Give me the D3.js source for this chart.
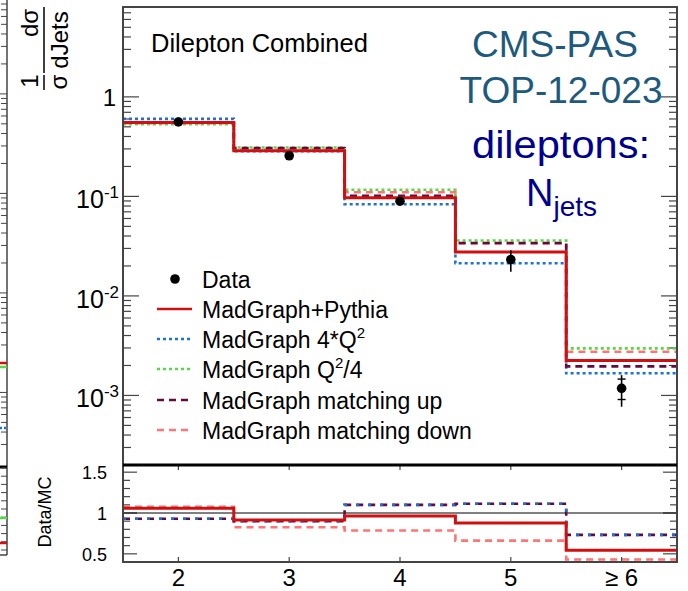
<!DOCTYPE html>
<html>
<head>
<meta charset="utf-8">
<script src="https://cdn.jsdelivr.net/npm/d3@7"></script>
<style>
  html, body { margin: 0; padding: 0; background: #fff; }
  svg { display: block; font-family: "Liberation Sans", Arial, sans-serif; }
</style>
</head>
<body>
<svg id="chart" width="688" height="591"></svg>
<script>
// Jet multiplicity bins
const categories = ["2", "3", "4", "5", "\u2265 6"];
const binCenters = [2, 3, 4, 5, 6];

// Normalised differential cross section (1/sigma dsigma/dJets)
const dataValues = [0.56, 0.256, 0.0895, 0.0232, 0.00118];
const dataErrLow = [0.545, 0.250, 0.0860, 0.01745, 0.00077];
const dataErrHigh = [0.575, 0.262, 0.0930, 0.0288, 0.00160];
const dataStatLow = [null, null, null, null, 0.00091];
const dataStatHigh = [null, null, null, null, 0.00146];

const madgraphPythia = [0.552, 0.287, 0.097, 0.0277, 0.00225];
const scaleUp = [0.601, 0.285, 0.0835, 0.0213, 0.00167];      // 4*Q^2
const scaleDown = [0.532, 0.310, 0.1167, 0.0360, 0.00297];    // Q^2/4
const matchingUp = [0.550, 0.306, 0.1016, 0.0340, 0.00196];
const matchingDown = [0.545, 0.294, 0.1100, 0.0336, 0.00275];

// Data/MC ratios
const ratioNominal = [1.057, 0.915, 0.963, 0.878, 0.545];
const ratioMatchingDown = [1.077, 0.826, 0.785, 0.662, 0.43];
const ratioScaleUp = [0.93, 0.90, 1.10, 1.113, 0.732];
const ratioMatchingUp = [0.93, 0.90, 1.10, 1.113, 0.732];

const mainTicks = [1, 0.1, 0.01, 0.001];
const mainTickLabels = [["1", ""], ["10", "-1"], ["10", "-2"], ["10", "-3"]];
const ratioTicks = [0.5, 1, 1.5];
const ratioTickLabels = ["0.5", "1", "1.5"];

const legendLabels = ["Data", "MadGraph+Pythia", "MadGraph 4*Q", "MadGraph Q", "MadGraph matching up", "MadGraph matching down"];

const svg = d3.select("#chart");

const X0 = 123, X1 = 677;
const x = d3.scaleLinear().domain([1.5, 6.5]).range([X0, X1]);
const y = d3.scaleLog().domain([2e-4, 8]).range([465, 7]);
const yr = d3.scaleLinear().domain([0.4, 1.6]).range([562, 464]);

const styles = {
  nominal: { color: "#d01010", width: 3, dash: null },
  scaleUp: { color: "#1a72d8", width: 2.6, dash: "3,3" },
  scaleDown: { color: "#58d848", width: 2.6, dash: "3,3" },
  matchUp: { color: "#660a3c", width: 2.6, dash: "7,5" },
  matchDown: { color: "#ff7474", width: 2.6, dash: "7,5" }
};

// step path through bins
function stepPath(vals, ys) {
  const p = d3.path();
  vals.forEach((v, i) => {
    const xa = x(binCenters[i] - 0.5), xb = x(binCenters[i] + 0.5);
    if (i === 0) p.moveTo(xa, ys(v)); else p.lineTo(xa, ys(v));
    p.lineTo(xb, ys(v));
  });
  return p.toString();
}
function drawStep(g, vals, ys, st) {
  g.append("path").attr("d", stepPath(vals, ys))
    .attr("fill", "none").attr("stroke", st.color)
    .attr("stroke-width", st.width)
    .attr("stroke-dasharray", st.dash);
}

// ---------- neighbouring panel edge on the far left ----------
const edge = svg.append("g");
edge.append("line").attr("x1", 7).attr("x2", 7).attr("y1", 0).attr("y2", 555)
  .attr("stroke", "#444").attr("stroke-width", 1.5);
edge.append("line").attr("x1", 0).attr("x2", 7).attr("y1", 555).attr("y2", 555)
  .attr("stroke", "#444").attr("stroke-width", 1.5);
edge.append("line").attr("x1", 0).attr("x2", 7).attr("y1", 467).attr("y2", 467)
  .attr("stroke", "#000").attr("stroke-width", 3);
[-4, -3, -2, -1, 0].forEach(e => {
  for (let m = 1; m <= 9; m++) {
    const v = m * Math.pow(10, e);
    if (v < 2.5e-4 || v > 8) continue;
    edge.append("line").attr("x1", m === 1 ? -8 : 1).attr("x2", 7)
      .attr("y1", y(v) - 3).attr("y2", y(v) - 3)
      .attr("stroke", "#444").attr("stroke-width", 1);
  }
});
d3.range(0.5, 1.55, 0.1).forEach(v => {
  const yy = 468 + (1.5 - v) * 82;
  edge.append("line").attr("x1", 1).attr("x2", 7).attr("y1", yy).attr("y2", yy)
    .attr("stroke", "#444").attr("stroke-width", 1);
});
[[363, "#d01010", null], [367, "#58d848", null], [428, "#1a72d8", "2,2"], [518, "#58d848", null], [543, "#d01010", null]]
  .forEach(([yy, c, d]) => edge.append("line").attr("x1", 0).attr("x2", 7)
    .attr("y1", yy).attr("y2", yy).attr("stroke", c).attr("stroke-width", 2.5)
    .attr("stroke-dasharray", d));

// ---------- upper panel ----------
const main = svg.append("g");

// minor/major y ticks on both sides
const decades = [-4, -3, -2, -1, 0];
decades.forEach(e => {
  for (let m = 1; m <= 9; m++) {
    const v = m * Math.pow(10, e);
    if (v < 2e-4 || v > 8) continue;
    const len = m === 1 ? 16 : 8;
    main.append("line").attr("x1", X0).attr("x2", X0 + len)
      .attr("y1", y(v)).attr("y2", y(v)).attr("stroke", "#444").attr("stroke-width", 1.2);
    main.append("line").attr("x1", X1 - len).attr("x2", X1)
      .attr("y1", y(v)).attr("y2", y(v)).attr("stroke", "#444").attr("stroke-width", 1.2);
  }
});

// tick labels
mainTicks.forEach((v, i) => {
  const [base, exp] = mainTickLabels[i];
  if (!exp) {
    main.append("text").attr("x", 116).attr("y", y(v) + 9)
      .attr("text-anchor", "end").attr("font-size", 24).text(base);
  } else {
    const t = main.append("text").attr("x", 119).attr("y", y(v) + 12)
      .attr("text-anchor", "end").attr("font-size", 25);
    t.append("tspan").text(base);
    t.append("tspan").attr("font-size", 17).attr("dy", -10).text(exp);
  }
});

// y-axis title: 1/sigma dsigma/dJets
const yt = svg.append("g").attr("transform", "rotate(-90)").attr("font-size", 24);
yt.append("text").attr("x", -23).attr("y", 38).attr("text-anchor", "middle").text("d\u03c3");
yt.append("text").attr("x", -40).attr("y", 68).attr("text-anchor", "middle").text("dJets");
yt.append("line").attr("x1", -7).attr("x2", -73).attr("y1", 44).attr("y2", 44)
  .attr("stroke", "#000").attr("stroke-width", 1.5);
yt.append("text").attr("x", -81).attr("y", 38).attr("text-anchor", "middle").text("1");
yt.append("text").attr("x", -82).attr("y", 67).attr("text-anchor", "middle").text("\u03c3");
yt.append("line").attr("x1", -75).attr("x2", -90).attr("y1", 44).attr("y2", 44)
  .attr("stroke", "#000").attr("stroke-width", 1.5);

// MC predictions
drawStep(main, scaleUp, y, styles.scaleUp);
drawStep(main, scaleDown, y, styles.scaleDown);
drawStep(main, matchingDown, y, styles.matchDown);
drawStep(main, matchingUp, y, styles.matchUp);
drawStep(main, madgraphPythia, y, styles.nominal);

// data with error bars
binCenters.forEach((c, i) => {
  main.append("line").attr("x1", x(c)).attr("x2", x(c))
    .attr("y1", y(dataErrLow[i])).attr("y2", y(dataErrHigh[i]))
    .attr("stroke", "#000").attr("stroke-width", 1.6);
  if (dataStatLow[i] !== null) {
    [dataStatLow[i], dataStatHigh[i]].forEach(v =>
      main.append("line").attr("x1", x(c) - 4).attr("x2", x(c) + 4)
        .attr("y1", y(v)).attr("y2", y(v)).attr("stroke", "#000").attr("stroke-width", 1.4));
  }
  main.append("circle").attr("cx", x(c)).attr("cy", y(dataValues[i])).attr("r", 4.8).attr("fill", "#000");
});

// frame
main.append("path").attr("d", `M${X0},465 V7 H${X1} V465`)
  .attr("fill", "none").attr("stroke", "#444").attr("stroke-width", 2);

// header texts
svg.append("text").attr("x", 151).attr("y", 52).attr("font-size", 25.5).text("Dilepton Combined");
svg.append("text").attr("x", 555).attr("y", 57).attr("text-anchor", "middle")
  .attr("font-size", 37).attr("fill", "#1d5a7e").text("CMS-PAS");
svg.append("text").attr("x", 561).attr("y", 103).attr("text-anchor", "middle")
  .attr("font-size", 37).attr("fill", "#1d5a7e").text("TOP-12-023");
svg.append("text").attr("x", 561).attr("y", 158).attr("text-anchor", "middle")
  .attr("font-size", 39).attr("fill", "#00008f")
  .attr("textLength", 178).attr("lengthAdjust", "spacingAndGlyphs").text("dileptons:");
const nj = svg.append("text").attr("x", 526).attr("y", 206).attr("font-size", 38).attr("fill", "#00008f");
nj.append("tspan").text("N");
nj.append("tspan").attr("font-size", 28).attr("dy", 10).text("jets");

// legend
const lg = svg.append("g").attr("font-size", 23);
const lgY = [279, 309, 339, 369, 400, 430];
lg.append("circle").attr("cx", 175).attr("cy", lgY[0]).attr("r", 4.8).attr("fill", "#000");
const lgStyles = [styles.nominal, styles.scaleUp, styles.scaleDown, styles.matchUp, styles.matchDown];
lgStyles.forEach((st, i) => {
  lg.append("line").attr("x1", 157).attr("x2", 192).attr("y1", lgY[i + 1]).attr("y2", lgY[i + 1])
    .attr("stroke", st.color).attr("stroke-width", st.width === 3 ? 2.5 : 2.4)
    .attr("stroke-dasharray", st.dash);
});
legendLabels.forEach((l, i) => {
  const t = lg.append("text").attr("x", 202).attr("y", lgY[i] + 8.5);
  t.append("tspan").text(l);
  if (i === 2) { t.append("tspan").attr("font-size", 15).attr("dy", -10).text("2"); }
  if (i === 3) {
    t.append("tspan").attr("font-size", 15).attr("dy", -10).text("2");
    t.append("tspan").attr("dy", 10).text("/4");
  }
});

// ---------- ratio panel ----------
const rp = svg.append("g");
d3.range(4, 16).forEach(k => {
  const v = k / 10;
  const major = (k % 5 === 0);
  const len = major ? 14 : 7;
  rp.append("line").attr("x1", X0).attr("x2", X0 + len).attr("y1", yr(v)).attr("y2", yr(v))
    .attr("stroke", "#444").attr("stroke-width", 1.2);
  rp.append("line").attr("x1", X1 - len).attr("x2", X1).attr("y1", yr(v)).attr("y2", yr(v))
    .attr("stroke", "#444").attr("stroke-width", 1.2);
});
ratioTicks.forEach((v, i) => {
  rp.append("text").attr("x", 107).attr("y", yr(v) + 7).attr("text-anchor", "end")
    .attr("font-size", 18).text(ratioTickLabels[i]);
});
rp.append("text").attr("transform", "translate(51,512) rotate(-90)")
  .attr("text-anchor", "middle").attr("font-size", 18).text("Data/MC");

// unity line
rp.append("line").attr("x1", X0).attr("x2", X1).attr("y1", yr(1)).attr("y2", yr(1))
  .attr("stroke", "#000").attr("stroke-width", 1);

drawStep(rp, ratioMatchingDown, yr, styles.matchDown);
drawStep(rp, ratioMatchingUp, yr, { color: "#660a3c", width: 2.6, dash: "7,5" });
drawStep(rp, ratioScaleUp, yr, { color: "#1a72d8", width: 2.6, dash: "3,9" });
drawStep(rp, ratioNominal, yr, styles.nominal);

// x ticks on the ratio panel
binCenters.forEach(c => {
  rp.append("line").attr("x1", x(c)).attr("x2", x(c)).attr("y1", 562).attr("y2", 557)
    .attr("stroke", "#444").attr("stroke-width", 1.2);
  rp.append("line").attr("x1", x(c)).attr("x2", x(c)).attr("y1", 465).attr("y2", 470)
    .attr("stroke", "#444").attr("stroke-width", 1.2);
});
categories.forEach((c, i) => {
  rp.append("text").attr("x", x(binCenters[i])).attr("y", 586).attr("text-anchor", "middle")
    .attr("font-size", 24).text(c);
});

// frame and separator
rp.append("path").attr("d", `M${X0},465 V562 H${X1} V465`)
  .attr("fill", "none").attr("stroke", "#444").attr("stroke-width", 2);
rp.append("line").attr("x1", X0).attr("x2", X1).attr("y1", 465).attr("y2", 465)
  .attr("stroke", "#000").attr("stroke-width", 3);
</script>
</body>
</html>
